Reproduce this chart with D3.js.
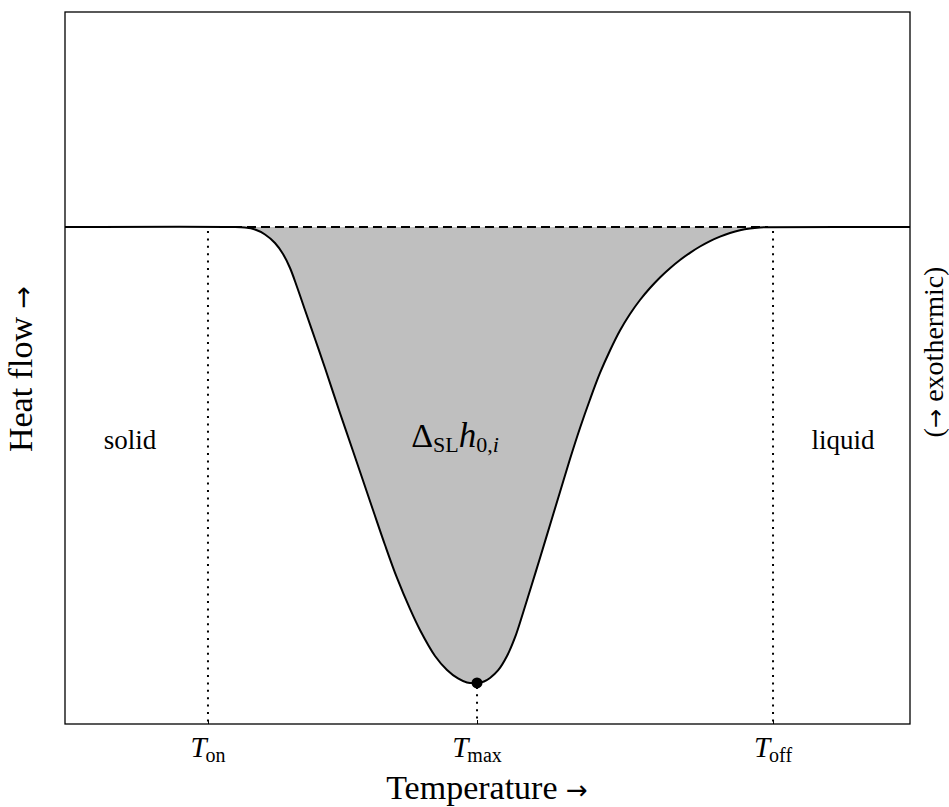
<!DOCTYPE html>
<html>
<head>
<meta charset="utf-8">
<script src="https://cdn.jsdelivr.net/npm/d3@7"></script>
<style>
  html, body { margin: 0; padding: 0; background: #fff; }
  svg text { font-family: "Liberation Serif", "DejaVu Serif", serif; fill: #000; }
  .arrow { font-family: "DejaVu Sans", sans-serif; }
</style>
</head>
<body>
<svg id="chart" width="949" height="807"></svg>
<script>
// DSC melting peak: temperature (arbitrary units, 0-100) vs. heat flow (normalised, exothermic up)
const temperature = [0, 19.88, 21.30, 22.49, 23.67, 24.85, 25.80, 26.63, 27.46, 28.40, 29.59,
  30.77, 32.54, 34.08, 36.45, 37.87, 39.29, 40.83, 42.01, 43.79, 45.21, 46.51, 47.57,
  48.757, 49.586, 50.296, 51.243, 52.308, 53.254, 54.201, 55.266, 56.213, 57.396, 58.580,
  59.763, 60.947, 62.130, 63.314, 64.497, 65.680, 66.864, 68.047, 69.231, 70.414, 71.598,
  72.781, 73.964, 75.148, 76.331, 77.515, 78.698, 79.882, 81.065, 82.249, 83.195, 100];
const heatFlow = [0, 0, -0.0013, -0.0055, -0.0164, -0.0351, -0.0592, -0.0899, -0.1316, -0.1820, -0.2456,
  -0.3092, -0.4079, -0.4912, -0.6206, -0.6974, -0.7697, -0.8377, -0.8838, -0.9408, -0.9715, -0.9901, -0.9989,
  -1.0, -0.9967, -0.9890, -0.9726, -0.9408, -0.9002, -0.8465, -0.7829, -0.7259, -0.6535, -0.5811,
  -0.5088, -0.4408, -0.3783, -0.3202, -0.2708, -0.2270, -0.1908, -0.1601, -0.1338, -0.1107, -0.0904,
  -0.0724, -0.0566, -0.0428, -0.0309, -0.0211, -0.0132, -0.0072, -0.0033, -0.0011, -0.0004, 0];

// characteristic temperatures shown on the axis
const tickKeys = ["on", "max", "off"];
const tickTemps = [16.92, 48.76, 83.79];
const peakIndex = 23;

// start / end of the transition (where the signal leaves the baseline)
const peakStart = 19.88, peakEnd = 83.20;

const svg = d3.select("#chart");
const plotL = 65, plotR = 910, plotT = 12, plotB = 724;

const x = d3.scaleLinear().domain([0, 100]).range([plotL, plotR]);
const y = d3.scaleLinear().domain([-1.09, 0.4715]).range([plotB, plotT]);

const pts = temperature.map((t, i) => ({ t, v: heatFlow[i] }));
const curve = d3.curveCatmullRom.alpha(0.5);

// shaded area between baseline and the peak
svg.append("path")
  .datum(pts)
  .attr("fill", "#bfbfbf")
  .attr("d", d3.area().x(d => x(d.t)).y0(y(0)).y1(d => y(d.v)).curve(curve));

// interpolated baseline under the peak
svg.append("line")
  .attr("x1", x(peakStart)).attr("x2", x(peakEnd))
  .attr("y1", y(0)).attr("y2", y(0))
  .attr("stroke", "#000").attr("stroke-width", 1.8)
  .attr("stroke-dasharray", "9,5");

// vertical dotted markers
const markers = [
  { t: tickTemps[0], v: 0 },
  { t: tickTemps[1], v: heatFlow[peakIndex] },
  { t: tickTemps[2], v: 0 }
];
svg.selectAll("line.marker").data(markers).enter().append("line")
  .attr("class", "marker")
  .attr("x1", d => x(d.t)).attr("x2", d => x(d.t))
  .attr("y1", d => y(d.v) + 4).attr("y2", plotB)
  .attr("stroke", "#000").attr("stroke-width", 2)
  .attr("stroke-dasharray", "2,5.4");

// heat-flow curve
svg.append("path")
  .datum(pts)
  .attr("fill", "none")
  .attr("stroke", "#000")
  .attr("stroke-width", 2)
  .attr("d", d3.line().x(d => x(d.t)).y(d => y(d.v)).curve(curve));

// peak maximum
svg.append("circle")
  .attr("cx", x(temperature[peakIndex])).attr("cy", y(heatFlow[peakIndex]))
  .attr("r", 5.5).attr("fill", "#000");

// frame
svg.append("rect")
  .attr("x", plotL).attr("y", plotT).attr("width", plotR - plotL).attr("height", plotB - plotT)
  .attr("fill", "none").attr("stroke", "#000").attr("stroke-width", 1.3);

// bottom axis with inward ticks
const axis = svg.append("g")
  .attr("transform", `translate(0,${plotB})`)
  .call(d3.axisBottom(x).tickValues(tickTemps).tickSize(-4).tickFormat(""));
axis.select(".domain").remove();
axis.selectAll(".tick line").attr("stroke", "#000").attr("stroke-width", 1);

// tick labels: T with upright subscript
const tl = svg.selectAll("text.tick-label").data(tickTemps).enter().append("text")
  .attr("class", "tick-label")
  .attr("x", d => x(d))
  .attr("y", 757)
  .attr("text-anchor", "middle");
tl.append("tspan").attr("font-style", "italic").attr("font-size", 29).text("T");
tl.append("tspan").attr("font-size", 20).attr("dy", 5).attr("dx", -1).text((d, i) => tickKeys[i]);

// axis titles
const xt = svg.append("text")
  .attr("x", 487).attr("y", 799)
  .attr("text-anchor", "middle").attr("font-size", 34);
xt.append("tspan").text("Temperature ");
xt.append("tspan").attr("class", "arrow").attr("font-size", 26).text("→");

const yt = svg.append("text")
  .attr("transform", `translate(32,369) rotate(-90)`)
  .attr("text-anchor", "middle").attr("font-size", 34);
yt.append("tspan").text("Heat flow ");
yt.append("tspan").attr("class", "arrow").attr("font-size", 27).text("→");

const rt = svg.append("text")
  .attr("transform", `translate(943,352) rotate(-90)`)
  .attr("text-anchor", "middle").attr("font-size", 28);
rt.append("tspan").text("(");
rt.append("tspan").attr("class", "arrow").attr("font-size", 23).text("→");
rt.append("tspan").text(" exothermic)");

// region labels
svg.append("text").attr("x", 130).attr("y", 449).attr("text-anchor", "middle")
  .attr("font-size", 27).text("solid");
svg.append("text").attr("x", 843).attr("y", 449).attr("text-anchor", "middle")
  .attr("font-size", 27).text("liquid");

// enthalpy label: Δ_SL h_{0,i}
const hl = svg.append("text").attr("x", 455).attr("y", 447).attr("text-anchor", "middle");
hl.append("tspan").attr("font-size", 34).text("Δ");
hl.append("tspan").attr("font-size", 22).attr("dy", 5).text("SL");
hl.append("tspan").attr("font-size", 35).attr("font-style", "italic").attr("dy", -5).text("h");
hl.append("tspan").attr("font-size", 22).attr("dy", 5).text("0,");
hl.append("tspan").attr("font-size", 22).attr("font-style", "italic").text("i");
</script>
</body>
</html>
